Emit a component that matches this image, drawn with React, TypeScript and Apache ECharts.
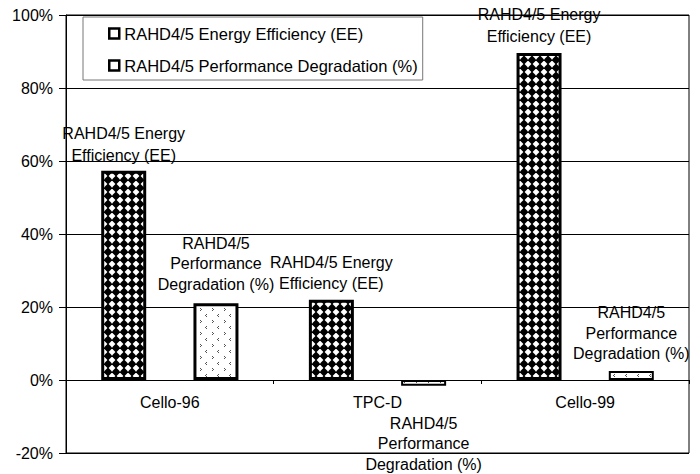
import React, { useEffect, useRef } from "react";
import * as echarts from "echarts";

const categories = ["Cello-96", "TPC-D", "Cello-99"];
const eeValues = [57.3, 22.0, 89.6];
const degValues = [21.0, -1.6, 2.5];
const yTicks = { min: -20, max: 100, interval: 20 };
const eeName = "RAHD4/5 Energy Efficiency (EE)";
const degName = "RAHD4/5 Performance Degradation (%)";
const eeLabel = "RAHD4/5 Energy\nEfficiency (EE)";
const degLabel = "RAHD4/5\nPerformance\nDegradation (%)";

function makeDiamond(): HTMLCanvasElement {
  const c = document.createElement("canvas");
  c.width = 8;
  c.height = 8;
  const g = c.getContext("2d")!;
  g.fillStyle = "#fff";
  g.fillRect(0, 0, 8, 8);
  g.fillStyle = "#000";
  g.beginPath();
  g.moveTo(4, -0.6);
  g.lineTo(8.6, 4);
  g.lineTo(4, 8.6);
  g.lineTo(-0.6, 4);
  g.closePath();
  g.fill();
  return c;
}

function makeDots(): HTMLCanvasElement {
  const c = document.createElement("canvas");
  c.width = 12;
  c.height = 12;
  const g = c.getContext("2d")!;
  g.fillStyle = "#fff";
  g.fillRect(0, 0, 12, 12);
  g.fillStyle = "#555";
  g.fillRect(2, 2, 1, 1);
  g.fillRect(1, 3, 1, 1);
  g.fillRect(2, 4, 1, 1);
  g.fillRect(8, 8, 1, 1);
  g.fillRect(9, 9, 1, 1);
  g.fillRect(8, 10, 1, 1);
  return c;
}

const FONT = "'Liberation Sans', Arial, sans-serif";

export default function App() {
  const ref = useRef<HTMLDivElement>(null);
  useEffect(() => {
    if (!ref.current) return;
    const chart = echarts.init(ref.current, null, { renderer: "svg" });
    const diamond = { image: makeDiamond(), repeat: "repeat" };
    const dots = { image: makeDots(), repeat: "repeat" };
    const baseLabel = {
      show: true,
      color: "#000",
      fontSize: 16,
      fontFamily: FONT,
      lineHeight: 20.5,
      align: "center",
    };
    const eeLabelCfg = [
      { position: "top", distance: 5, offset: [0, 0], lineHeight: 21.5 },
      { position: "top", distance: 6, offset: [0, 0] },
      { position: "top", distance: 6, offset: [0, 0], lineHeight: 21.5 },
    ];
    const degLabelCfg = [
      { position: "top", distance: 9, offset: [0, 0] },
      { position: "bottom", distance: 27, offset: [0, 0] },
      { position: "top", distance: 7, offset: [0, 0] },
    ];
    chart.setOption({
      animation: false,
      backgroundColor: "#fff",
      textStyle: { fontFamily: FONT },
      grid: {
        left: 66,
        right: 11,
        top: 15,
        bottom: 21,
        show: true,
        borderColor: "#000",
        borderWidth: 1,
        backgroundColor: "transparent",
      },
      legend: {
        orient: "vertical",
        left: 83,
        top: 17,
        padding: [8, 5, 6, 25],
        itemGap: 15,
        itemWidth: 10,
        itemHeight: 10,
        backgroundColor: "#fff",
        borderColor: "#777",
        borderWidth: 1,
        borderRadius: 0,
        textStyle: { fontSize: 16.5, color: "#000", fontFamily: FONT },
        data: [
          {
            name: eeName,
            icon: "rect",
            itemStyle: { color: "#fff", borderColor: "#000", borderWidth: 2.5 },
          },
          {
            name: degName,
            icon: "rect",
            itemStyle: { color: "#fff", borderColor: "#000", borderWidth: 2.5 },
          },
        ],
      },
      xAxis: {
        type: "category",
        data: categories,
        offset: -73,
        axisLine: { show: true, onZero: false, lineStyle: { color: "#000", width: 1 } },
        axisTick: { show: true, length: 4, lineStyle: { color: "#000" } },
        axisLabel: { color: "#000", fontSize: 16, fontFamily: FONT, margin: 14 },
        splitLine: { show: false },
      },
      yAxis: {
        type: "value",
        min: yTicks.min,
        max: yTicks.max,
        interval: yTicks.interval,
        axisLine: { show: true, lineStyle: { color: "#000", width: 1 } },
        axisTick: { show: true, length: 7, lineStyle: { color: "#000" } },
        axisLabel: {
          color: "#000",
          fontSize: 16,
          fontFamily: FONT,
          margin: 13,
          formatter: "{value}%",
        },
        splitLine: { show: true, lineStyle: { color: "#000", width: 1 } },
      },
      series: [
        {
          name: eeName,
          type: "bar",
          barWidth: 45,
          barGap: "105%",
          itemStyle: { color: diamond, borderColor: "#000", borderWidth: 3 },
          data: eeValues.map((v, i) => ({
            value: v,
            label: { ...baseLabel, ...eeLabelCfg[i], formatter: eeLabel },
          })),
        },
        {
          name: degName,
          type: "bar",
          barWidth: 45,
          barGap: "105%",
          itemStyle: { color: dots, borderColor: "#000", borderWidth: 3 },
          data: degValues.map((v, i) => ({
            value: v,
            itemStyle: Math.abs(v) < 5 ? { borderWidth: 2 } : undefined,
            label: { ...baseLabel, ...degLabelCfg[i], formatter: degLabel },
          })),
        },
      ],
    });
    return () => chart.dispose();
  }, []);
  return (
    <div
      ref={ref}
      style={{ position: "absolute", left: 0, top: 0, width: 700, height: 474 }}
    />
  );
}
